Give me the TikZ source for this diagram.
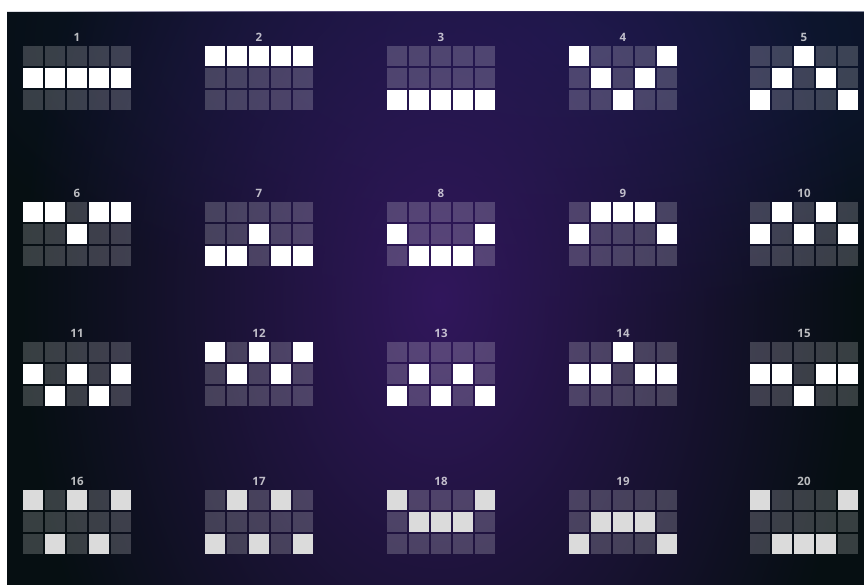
\documentclass[tikz,border=0pt]{standalone}
\usepackage{fontspec}
\setmainfont{Open Sans}
\usetikzlibrary{fadings}
\definecolor{bgbase}{HTML}{060F12}
\definecolor{navyc}{HTML}{121A40}
\definecolor{glowc}{HTML}{31175C}
\tikzfading[name=glowfade, inner color=transparent!0, outer color=transparent!100]
\begin{document}
\begin{tikzpicture}[x=1pt,y=-1pt,
  cell/.style={fill=white, fill opacity=0.2, minimum width=20pt, minimum height=20pt, inner sep=0pt, draw=none, anchor=north west},
  lab/.style={text=white, text opacity=0.72, font=\fontsize{11.5}{11.5}\selectfont\bfseries, inner sep=0pt, anchor=south}]
\useasboundingbox (0,0) rectangle (864,585);
\fill[white] (0,0) rectangle (864,585);
\fill[bgbase] (7,12) rectangle (864,585);
\begin{scope}
\clip (7,12) rectangle (864,585);
\fill[navyc, path fading=glowfade] (560,40) ellipse [x radius=640, y radius=280];
\fill[glowc, path fading=glowfade] (440,300) ellipse [x radius=420, y radius=640];
\end{scope}
\foreach \n/\gx/\gy/\br/\cells in {
 1/23/46/100/{1/2,2/2,3/2,4/2,5/2},
 2/205/46/100/{1/1,2/1,3/1,4/1,5/1},
 3/387/46/100/{1/3,2/3,3/3,4/3,5/3},
 4/569/46/100/{1/1,5/1,2/2,4/2,3/3},
 5/750/46/100/{3/1,2/2,4/2,1/3,5/3},
 6/23/202/100/{1/1,2/1,4/1,5/1,3/2},
 7/205/202/100/{3/2,1/3,2/3,4/3,5/3},
 8/387/202/100/{1/2,5/2,2/3,3/3,4/3},
 9/569/202/100/{2/1,3/1,4/1,1/2,5/2},
 10/750/202/100/{2/1,4/1,1/2,3/2,5/2},
 11/23/342/100/{1/2,3/2,5/2,2/3,4/3},
 12/205/342/100/{1/1,3/1,5/1,2/2,4/2},
 13/387/342/100/{2/2,4/2,1/3,3/3,5/3},
 14/569/342/100/{3/1,1/2,2/2,4/2,5/2},
 15/750/342/100/{1/2,2/2,4/2,5/2,3/3},
 16/23/490/72/{1/1,3/1,5/1,2/3,4/3},
 17/205/490/72/{2/1,4/1,1/3,3/3,5/3},
 18/387/490/72/{1/1,5/1,2/2,3/2,4/2},
 19/569/490/72/{2/2,3/2,4/2,1/3,5/3},
 20/750/490/72/{1/1,5/1,2/3,3/3,4/3}}
{
  \node[lab] (lab\n) at ({\gx+54},{\gy-4}) {\n};
  \foreach \c in {1,...,5}
    \foreach \r in {1,2,3}
      \node[cell] (c\n-\c-\r) at ({\gx+(\c-1)*22},{\gy+(\r-1)*22}) {};
  \foreach \c/\r in \cells
    \fill[white!\br!gray] (c\n-\c-\r.north west) rectangle (c\n-\c-\r.south east);
}
\end{tikzpicture}
\end{document}
